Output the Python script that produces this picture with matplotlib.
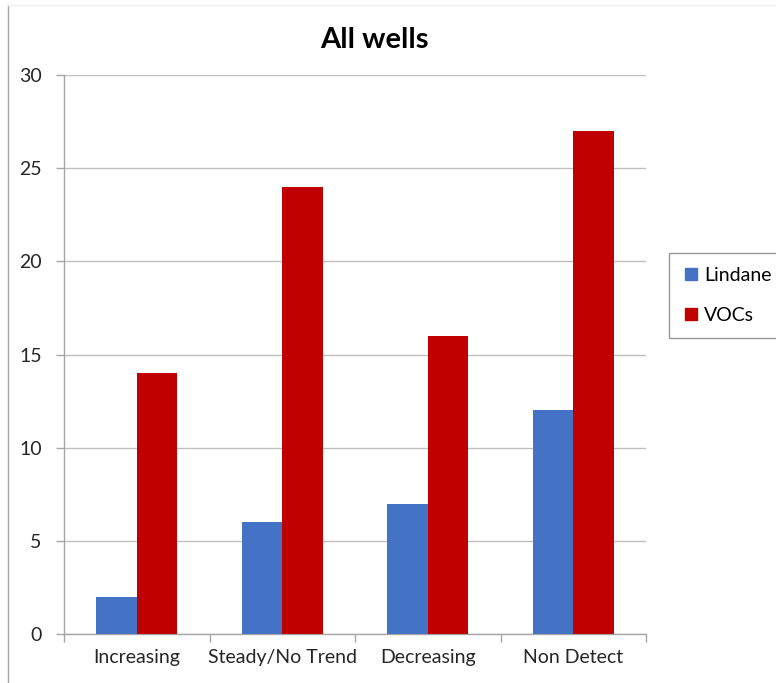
import matplotlib
matplotlib.use("Agg")
import matplotlib.pyplot as plt
import numpy as np
from matplotlib.lines import Line2D

categories = ["Increasing", "Steady/No Trend", "Decreasing", "Non Detect"]
lindane = [2, 6, 7, 12]
vocs = [14, 24, 16, 27]
yticks = [0, 5, 10, 15, 20, 25, 30]

blue = "#4472C4"
red = "#C00000"
grid_c = "#BFBFBF"
axis_c = "#A6A6A6"

plt.rcParams["font.family"] = ["Lato", "DejaVu Sans"]

fig = plt.figure(figsize=(7.76, 6.83), dpi=100)
W, H = 776, 683
ax = fig.add_axes([64 / W, 1 - 634 / H, (646 - 64) / W, (634 - 75) / H])

x = np.arange(len(categories))
bw = 0.28
ax.bar(x - bw / 2, lindane, bw, color=blue, zorder=3)
ax.bar(x + bw / 2, vocs, bw, color=red, zorder=3)

ax.set_xlim(-0.5, len(categories) - 0.5)
ax.set_ylim(0, 30)
ax.set_yticks(yticks)
ax.set_yticklabels([str(v) for v in yticks], fontsize=14, color="#262626")
ax.yaxis.grid(True, color=grid_c, linewidth=1, zorder=0)
ax.set_axisbelow(True)

ax.set_xticks(x)
ax.set_xticklabels(categories, fontsize=14, color="#262626")
ax.tick_params(axis="x", length=0, pad=11)
ax.set_xticks(np.arange(len(categories) + 1) - 0.5, minor=True)
ax.tick_params(axis="x", which="minor", length=6, color=axis_c, width=1)
ax.tick_params(axis="y", length=6, color=axis_c, width=1, pad=10)

for s in ["top", "right"]:
    ax.spines[s].set_visible(False)
for s in ["left", "bottom"]:
    ax.spines[s].set_color(axis_c)
    ax.spines[s].set_linewidth(1)

fig.text(374 / W, 1 - 40 / H, "All wells", ha="center", va="center",
         fontsize=21, fontweight="bold", color="#000000")

handles = [Line2D([], [], marker="s", linestyle="none", markersize=8,
                  markerfacecolor=c, markeredgecolor=c) for c in (blue, red)]
leg = fig.legend(handles, ["Lindane", "VOCs"], loc="upper left",
                 bbox_to_anchor=(669 / W, 1 - 253 / H), fontsize=14,
                 frameon=True, fancybox=False, borderpad=0.7,
                 labelspacing=1.2, handletextpad=0.2, handlelength=0.9,
                 borderaxespad=0)
leg.get_frame().set_edgecolor("#7F7F7F")
leg.get_frame().set_linewidth(1)

# outer chart border
fig.add_artist(Line2D([8 / W, 8 / W], [0, 1 - 5 / H], color="#A6A6A6", linewidth=1))
fig.add_artist(Line2D([8 / W, 1], [1 - 5 / H, 1 - 5 / H], color="#EEEEEE", linewidth=1))

fig.savefig("out.png", dpi=100)
